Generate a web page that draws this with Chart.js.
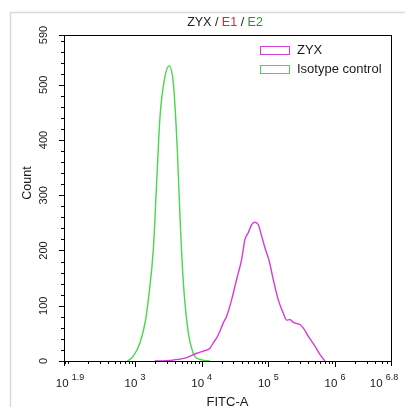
<!DOCTYPE html>
<html>
<head>
<meta charset="utf-8">
<title>ZYX / E1 / E2</title>
<script src="https://cdn.jsdelivr.net/npm/chart.js@4.4.1/dist/chart.umd.min.js"></script>
<style>
  html, body { margin: 0; padding: 0; background: #fff; }
  #wrap { width: 405px; height: 407px; }
</style>
</head>
<body>
<div id="wrap"><canvas id="flowChart" width="405" height="407"></canvas></div>
<script>
// Histogram traces: x as log10(FITC-A), y as count
const zyxLog = [3.30, 3.525, 3.775, 3.925, 4.024, 4.124, 4.174, 4.225, 4.274, 4.324, 4.375, 4.45, 4.525, 4.60,
                4.649, 4.699, 4.75, 4.799, 4.849, 4.90, 4.949, 5.013, 5.073, 5.148, 5.223, 5.274, 5.324, 5.373,
                5.424, 5.474, 5.523, 5.598, 5.699, 5.774, 5.849];
const zyxCount = [0, 1, 6, 14, 18, 23, 33, 42, 54, 69, 81, 111, 148, 184,
                  220, 232, 247, 251, 247, 226, 205, 181, 148, 111, 87, 74, 75, 70,
                  68, 66, 60, 45, 27, 12, 0];
const isoLog = [2.885, 2.97, 3.075, 3.16, 3.20, 3.275, 3.325, 3.375, 3.45, 3.51, 3.575, 3.635, 3.675,
                3.725, 3.80, 3.87, 3.90, 4.00, 4.125];
const isoCount = [0, 8, 33, 75, 111, 202, 323, 442, 515, 534, 503, 382, 261,
                  142, 51, 15, 8, 2, 0];

const seriesNames = ['ZYX', 'Isotype control'];
const seriesColors = ['#d63cd6', '#48d848'];

// axis ticks
const yTickValues = [0, 100, 200, 300, 400, 500, 590];
const xTickExps = [1.9, 3, 4, 5, 6, 6.8];
const xRange = [1.935, 6.84];

const titleParts = [['ZYX', '#222222'], [' / ', '#222222'], ['E1', '#d42a2a'], [' / ', '#222222'], ['E2', '#239a23']];

function toPoints(logs, counts) {
    return logs.map((l, i) => ({ x: Math.pow(10, l), y: counts[i] }));
}

// draws frame, axes, ticks, labels, title and legend
const flowDecor = {
    id: 'flowDecor',
    afterDraw(chart) {
        const ctx = chart.ctx;
        const area = chart.chartArea;
        const xs = chart.scales.x;
        const ys = chart.scales.y;
        const font = '"Liberation Sans", Arial, sans-serif';
        ctx.save();

        // panel frame
        ctx.strokeStyle = '#dadada';
        ctx.lineWidth = 1.5;
        ctx.beginPath();
        ctx.moveTo(10.5, 407);
        ctx.lineTo(10.5, 12.5);
        ctx.lineTo(405, 12.5);
        ctx.stroke();

        // plot box
        ctx.strokeStyle = '#000';
        ctx.lineWidth = 1;
        ctx.strokeRect(area.left + 0.5, area.top + 0.5, area.right - area.left, area.bottom - area.top);

        // y ticks
        ctx.beginPath();
        for (let v = 0; v <= 590; v += 20) {
            const py = Math.round(ys.getPixelForValue(v)) + 0.5;
            const len = v % 100 === 0 ? 5 : 3;
            ctx.moveTo(area.left, py);
            ctx.lineTo(area.left - len, py);
        }
        const pTop = Math.round(ys.getPixelForValue(590)) + 0.5;
        ctx.moveTo(area.left, pTop);
        ctx.lineTo(area.left - 5, pTop);

        // x ticks
        for (let d = 1; d <= 6; d++) {
            for (let m = 1; m <= 9; m++) {
                const v = m * Math.pow(10, d);
                if (v < xs.min || v > xs.max) continue;
                const px = Math.round(xs.getPixelForValue(v)) + 0.5;
                const len = (m === 1 && d > 2) ? 6 : 3;
                ctx.moveTo(px, area.bottom);
                ctx.lineTo(px, area.bottom + len);
            }
        }
        ctx.moveTo(area.left + 0.5, area.bottom);
        ctx.lineTo(area.left + 0.5, area.bottom + 5);
        ctx.moveTo(area.right + 0.5, area.bottom);
        ctx.lineTo(area.right + 0.5, area.bottom + 5);
        ctx.stroke();

        // y tick labels (rotated)
        ctx.fillStyle = '#1a1a1a';
        ctx.font = '11px ' + font;
        ctx.textAlign = 'center';
        ctx.textBaseline = 'middle';
        yTickValues.forEach(v => {
            const py = ys.getPixelForValue(v);
            ctx.save();
            ctx.translate(44, py);
            ctx.rotate(-Math.PI / 2);
            ctx.fillText(String(v), 0, 0);
            ctx.restore();
        });

        // x tick labels: 10 with superscript exponent
        ctx.textAlign = 'left';
        ctx.textBaseline = 'alphabetic';
        xTickExps.forEach(e => {
            let cx = xs.getPixelForValue(Math.pow(10, e));
            cx = Math.min(Math.max(cx, area.left + 6), area.right - 7);
            ctx.font = '11.5px ' + font;
            const wBase = ctx.measureText('10').width;
            ctx.font = '9px ' + font;
            const sup = String(e);
            const wSup = ctx.measureText(sup).width;
            const x0 = cx - (wBase + 3 + wSup) / 2;
            ctx.font = '11.5px ' + font;
            ctx.fillText('10', x0, 387);
            ctx.font = '9px ' + font;
            ctx.fillText(sup, x0 + wBase + 3, 380);
        });

        // axis titles
        ctx.font = '13px ' + font;
        ctx.textAlign = 'center';
        ctx.textBaseline = 'top';
        ctx.fillText('FITC-A', (area.left + area.right) / 2, 396);
        ctx.save();
        ctx.translate(28, 183);
        ctx.rotate(-Math.PI / 2);
        ctx.font = '12.5px ' + font;
        ctx.textBaseline = 'middle';
        ctx.fillText('Count', 0, 0);
        ctx.restore();

        // multi-coloured title
        ctx.font = '12.5px ' + font;
        ctx.textAlign = 'left';
        ctx.textBaseline = 'middle';
        const total = titleParts.reduce((s, p) => s + ctx.measureText(p[0]).width, 0);
        let tx = 225 - total / 2;
        titleParts.forEach(p => {
            ctx.fillStyle = p[1];
            ctx.fillText(p[0], tx, 23);
            tx += ctx.measureText(p[0]).width;
        });

        // legend
        ctx.font = '13px ' + font;
        ctx.fillStyle = '#1a1a1a';
        chart.data.datasets.forEach((ds, i) => {
            const by = 46 + i * 19;
            ctx.strokeStyle = ds.borderColor;
            ctx.lineWidth = 1;
            ctx.strokeRect(260.5, by + 0.5, 29, 8);
            ctx.fillText(ds.label, 297, by + 4.5);
        });

        ctx.restore();
    }
};

const chart = new Chart(document.getElementById('flowChart'), {
    type: 'line',
    data: {
        datasets: [
            {
                label: seriesNames[0],
                data: toPoints(zyxLog, zyxCount),
                borderColor: seriesColors[0],
                backgroundColor: 'transparent',
                borderWidth: 1.4,
                pointRadius: 0,
                cubicInterpolationMode: 'monotone',
                fill: false
            },
            {
                label: seriesNames[1],
                data: toPoints(isoLog, isoCount),
                borderColor: seriesColors[1],
                backgroundColor: 'transparent',
                borderWidth: 1.4,
                pointRadius: 0,
                cubicInterpolationMode: 'monotone',
                fill: false
            }
        ]
    },
    options: {
        responsive: false,
        animation: false,
        layout: { padding: { left: 64, top: 35, right: 14, bottom: 46 } },
        plugins: {
            legend: { display: false },
            title: { display: false },
            tooltip: { enabled: false }
        },
        scales: {
            x: {
                type: 'logarithmic',
                display: false,
                min: Math.pow(10, xRange[0]),
                max: Math.pow(10, xRange[1])
            },
            y: {
                type: 'linear',
                display: false,
                min: 0,
                max: 590
            }
        }
    },
    plugins: [flowDecor]
});
</script>
</body>
</html>
